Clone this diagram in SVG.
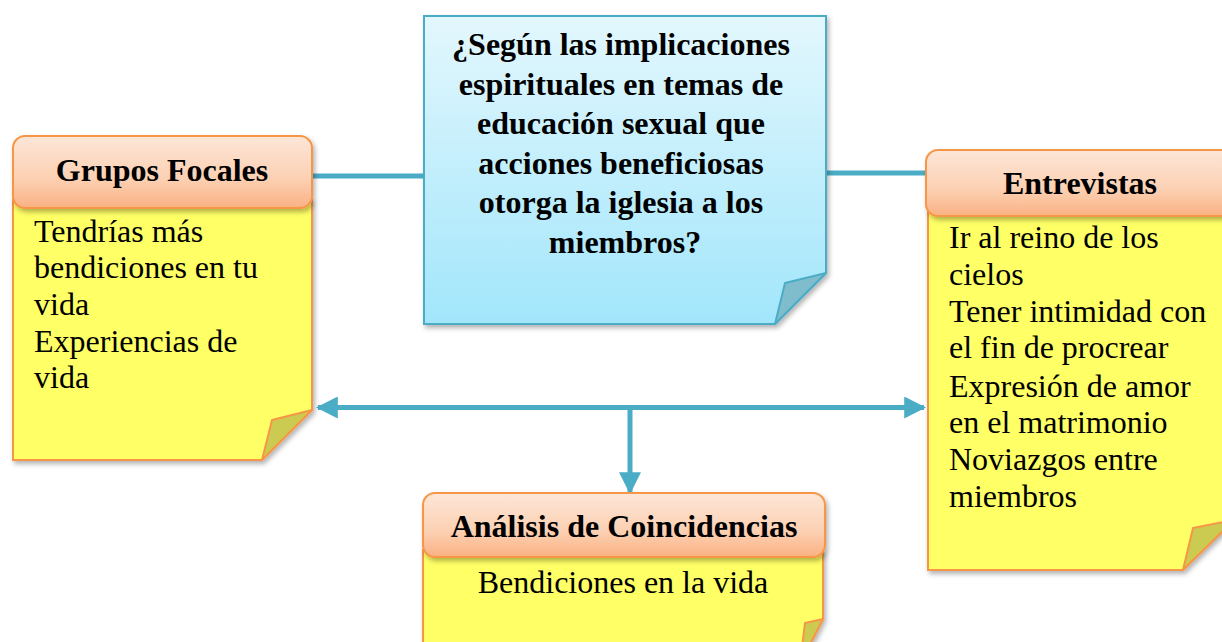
<svg xmlns="http://www.w3.org/2000/svg" width="1222" height="642" viewBox="0 0 1222 642">
<defs>
<linearGradient id="hdr" x1="0" y1="0" x2="0" y2="1">
<stop offset="0" stop-color="#fde6d8"/>
<stop offset="0.6" stop-color="#fcd0b2"/>
<stop offset="1" stop-color="#fab183"/>
</linearGradient>
<linearGradient id="blue" x1="0" y1="0" x2="0" y2="1">
<stop offset="0" stop-color="#e3f7fd"/>
<stop offset="1" stop-color="#a2e6fb"/>
</linearGradient>
<filter id="sh" x="-10%" y="-10%" width="130%" height="130%">
<feDropShadow dx="2" dy="3" stdDeviation="2.5" flood-color="#000" flood-opacity="0.3"/>
</filter>
<marker id="ah" viewBox="0 0 10 10" refX="9" refY="5" markerWidth="4.4" markerHeight="4.4" orient="auto-start-reverse" markerUnits="strokeWidth">
<path d="M0,0 L10,5 L0,10 Z" fill="#4bacc6"/>
</marker>
</defs>
<style>
.body{fill:#ffff66;stroke:#f79646;stroke-width:2;}
.fold{fill:#cbcb52;stroke:#f79646;stroke-width:2;stroke-linejoin:round;}
.hdr{fill:url(#hdr);stroke:#f79646;stroke-width:2;}
.ht{font-family:"Liberation Serif","Times New Roman",serif;font-weight:bold;font-size:32px;fill:#000;text-anchor:middle;}
.bt{font-family:"Liberation Serif","Times New Roman",serif;font-size:32px;fill:#000;}
.con{stroke:#4bacc6;stroke-width:5;fill:none;}
</style>

<g id="connectors">
<line class="con" x1="312" y1="176" x2="424" y2="176"/>
<line class="con" x1="826" y1="173" x2="926" y2="173"/>
<line class="con" x1="318" y1="407.5" x2="924" y2="407.5" marker-start="url(#ah)" marker-end="url(#ah)"/>
<line class="con" x1="630" y1="407.5" x2="630" y2="492" marker-end="url(#ah)"/>
</g>

<g id="pregunta">
<path d="M424,16 H826 V273 L775,324 H424 Z" fill="url(#blue)" stroke="#4bacc6" stroke-width="2" filter="url(#sh)"/>
<path d="M826,273 L785,283 L775,324 Z" fill="#7fbccc" stroke="#4bacc6" stroke-width="2" stroke-linejoin="round"/>
<text class="ht">
<tspan x="625" y="55">¿Según las implicaciones</tspan>
<tspan x="625" y="95">espirituales en temas de</tspan>
<tspan x="625" y="134">educación sexual que</tspan>
<tspan x="625" y="174">acciones beneficiosas</tspan>
<tspan x="625" y="213">otorga la iglesia a los</tspan>
<tspan x="625" y="253">miembros?</tspan>
</text>
</g>

<g id="grupos-focales">
<path class="body" d="M13,200 H312 V410 L262,460 H13 Z" filter="url(#sh)"/>
<path class="fold" d="M312,410 L272,420 L262,460 Z"/>
<rect class="hdr" x="13" y="136" width="299" height="72" rx="12" filter="url(#sh)"/>
<text class="ht" x="162" y="181">Grupos Focales</text>
<text class="bt">
<tspan x="34" y="242">Tendrías más</tspan>
<tspan x="34" y="278">bendiciones en tu</tspan>
<tspan x="34" y="315">vida</tspan>
<tspan x="34" y="352">Experiencias de</tspan>
<tspan x="34" y="388">vida</tspan>
</text>
</g>

<g id="entrevistas">
<path class="body" d="M928,210 H1234 V520 L1183,570 H928 Z" filter="url(#sh)"/>
<path class="fold" d="M1234,520 L1193,528 L1183,570 Z"/>
<rect class="hdr" x="926" y="150" width="310" height="66" rx="12" filter="url(#sh)"/>
<text class="ht" x="1080" y="194">Entrevistas</text>
<text class="bt">
<tspan x="949" y="248">Ir al reino de los</tspan>
<tspan x="949" y="285">cielos</tspan>
<tspan x="949" y="322">Tener intimidad con</tspan>
<tspan x="949" y="358">el fin de procrear</tspan>
<tspan x="949" y="397">Expresión de amor</tspan>
<tspan x="949" y="433">en el matrimonio</tspan>
<tspan x="949" y="470">Noviazgos entre</tspan>
<tspan x="949" y="507">miembros</tspan>
</text>
</g>

<g id="analisis">
<path class="body" d="M423,550 H823 V619 L800,664 H423 Z" filter="url(#sh)"/>
<path class="fold" d="M823,619 L805,623 L800,664 Z"/>
<rect class="hdr" x="423" y="493" width="402" height="64" rx="12" filter="url(#sh)"/>
<text class="ht" x="624" y="537">Análisis de Coincidencias</text>
<text class="bt" x="623" y="593" text-anchor="middle">Bendiciones en la vida</text>
</g>
</svg>
